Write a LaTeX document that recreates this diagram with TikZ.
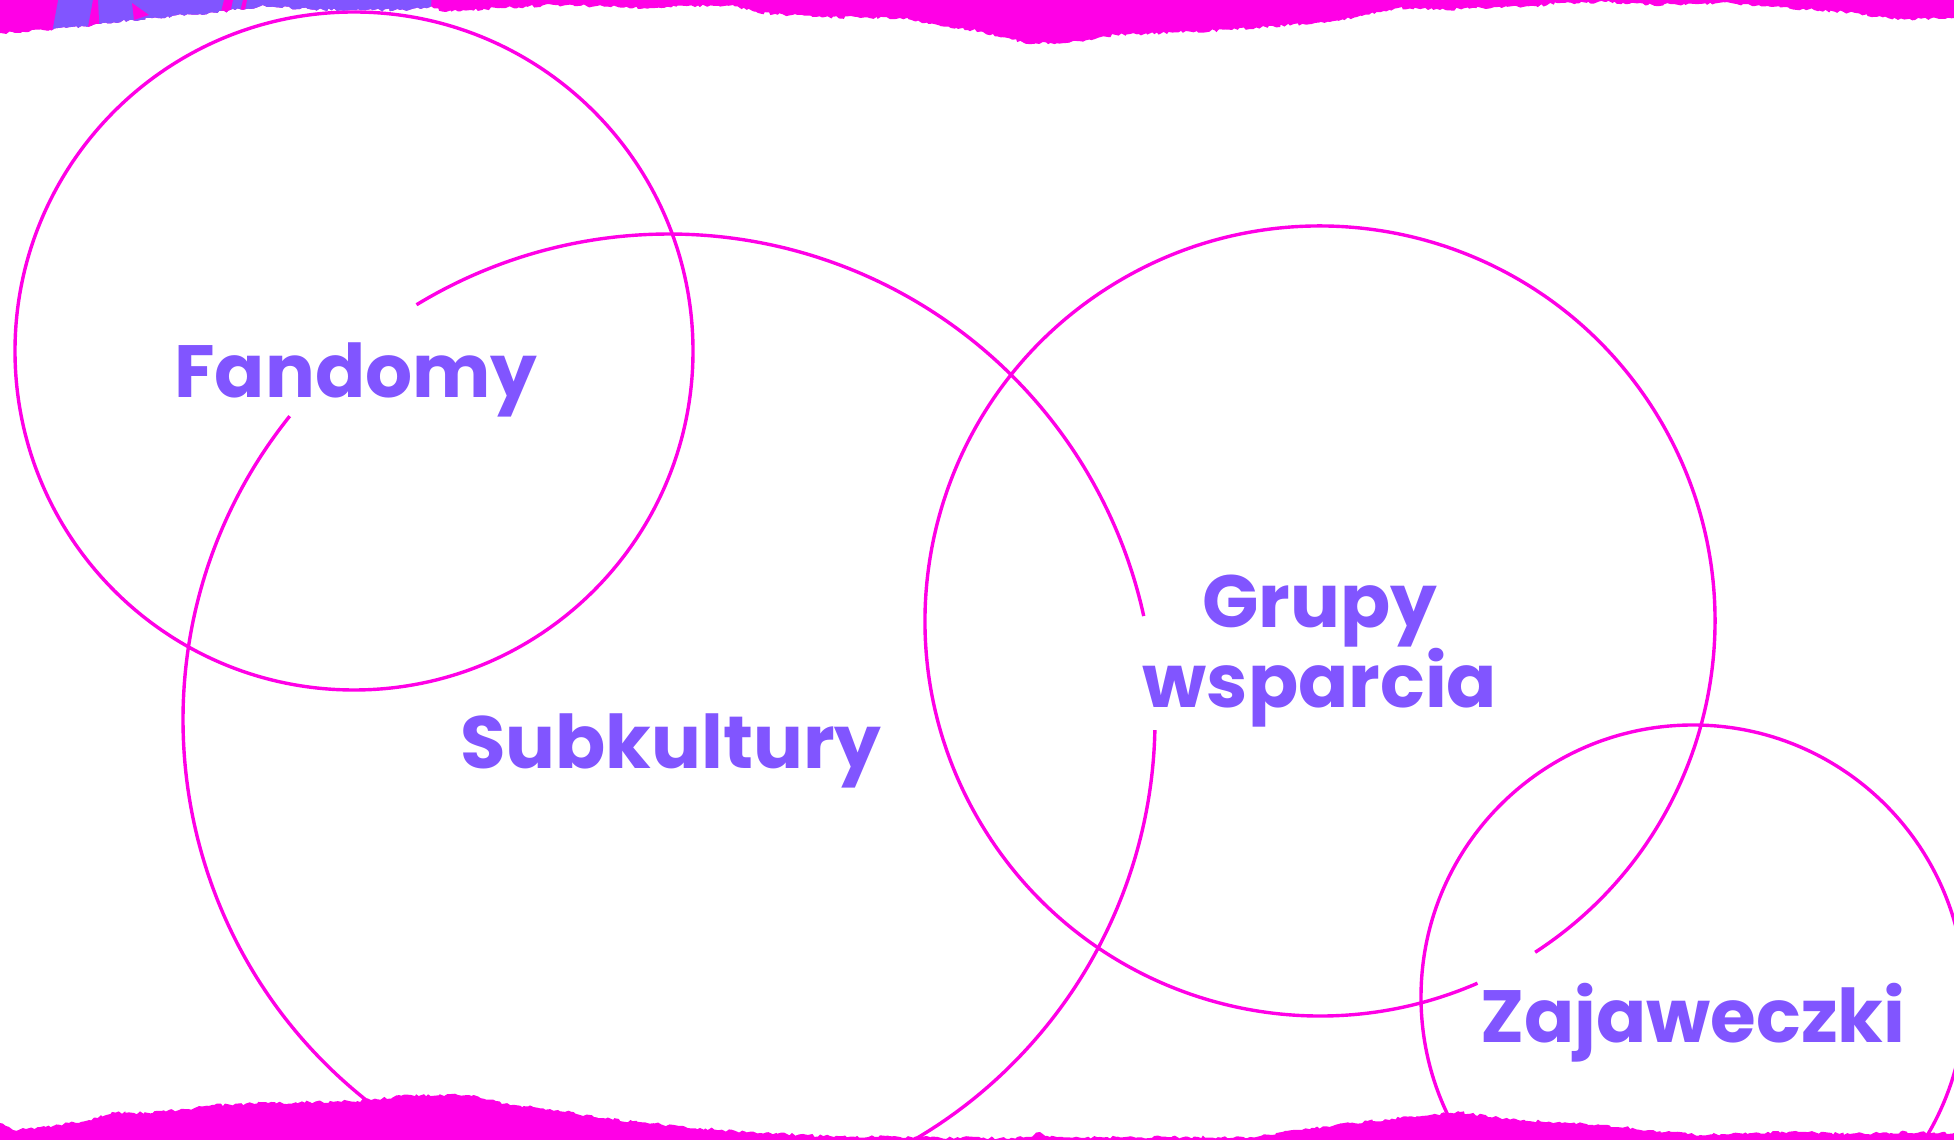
\documentclass[tikz,border=0pt]{standalone}
\usepackage{fontspec}
\setmainfont{Poppins}
\usepackage{xcolor}
\usepackage{tikz}
\usetikzlibrary{positioning, decorations.pathmorphing}
\definecolor{venpink}{HTML}{FF00E6}
\definecolor{venviolet}{HTML}{8155FF}

\begin{document}
\begin{tikzpicture}[x=1pt, y=1pt,
    ring/.style={draw=venpink, line width=3.4pt},
    circname/.style={text=venviolet, font=\bfseries\fontsize{74}{80}\selectfont,
                     align=center, inner sep=0pt},
    torn/.style={decorate, decoration={random steps, segment length=3pt, amplitude=1.5pt}}]
  \clip (0,0) rectangle (1954,1140);
  % centres of the circles
  \coordinate (cfan) at (354,789);
  \coordinate (csub) at (669,420);
  \coordinate (cgru) at (1320,519);
  \coordinate (czaj) at (1693,143);

  \draw[ring] (cfan) circle[radius=339];
  \draw[ring] (csub) ++(12.35:486) arc[start angle=12.35, end angle=121.3, radius=486];
  \draw[ring] (csub) ++(141.3:486) arc[start angle=141.3, end angle=358.8, radius=486];
  \draw[ring] (cgru) ++(-57:395) arc[start angle=-57, end angle=293.5, radius=395];
  \draw[ring] (czaj) circle[radius=272];

  \node[circname, anchor=base] (fandomy) at (356,742) {Fandomy};
  \node[circname, anchor=base] (subkultury) at (671,371) {Subkultury};
  \node[circname, anchor=base] (grupy) at (1320,432) {Grupy\\wsparcia};
  \node[circname, anchor=base] (zajaweczki) at (1693,97) {Zajaweczki};

  % torn paper strip, top
  \begin{scope}
    \pgfmathsetseed{7}
    \clip[torn] (-20,1170) -- (1974,1170) -- (1974,1122) -- (1954,1122) -- (1898,1120)
      -- (1856,1127) -- (1814,1130) -- (1773,1133) -- (1731,1137) -- (1648,1135)
      -- (1606,1138) -- (1565,1137) -- (1523,1133) -- (1482,1132) -- (1440,1130)
      -- (1398,1132) -- (1357,1123) -- (1315,1117) -- (1232,1110) -- (1116,1105)
      -- (1066,1097) -- (1024,1097) -- (983,1108) -- (900,1122) -- (816,1123)
      -- (758,1127) -- (733,1135) -- (650,1132) -- (558,1135) -- (500,1132)
      -- (446,1128) -- (430,1133) -- (400,1130) -- (350,1130) -- (300,1131)
      -- (265,1134) -- (235,1130) -- (200,1126) -- (150,1122) -- (100,1116) -- (50,1110)
      -- (0,1107) -- (-20,1107) -- cycle;
    \fill[venpink] (-20,1080) rectangle (1974,1170);
    \fill[venviolet] (60,1150) -- (47,1080) -- (428,1080) -- (432,1150) -- cycle;
    \fill[venpink] (82,1080) -- (93,1140) -- (98,1140) -- (101,1080) -- cycle;
    \fill[venpink] (132,1137) -- (149,1125) -- (134,1120) -- cycle;
    \fill[venpink] (214,1100) -- (224,1140) -- (233,1140) -- (224,1100) -- cycle;
    \fill[venpink] (238,1120) -- (243,1140) -- (247,1140) -- (243,1120) -- cycle;
  \end{scope}

  % torn paper strip, bottom
  \pgfmathsetseed{11}
  \fill[venpink, torn] (-20,-30) -- (-20,17) -- (0,17) -- (13,10) -- (45,13) -- (89,20)
    -- (112,28) -- (134,27) -- (179,30) -- (214,35) -- (268,37) -- (357,39)
    -- (411,45) -- (469,45) -- (513,35) -- (558,30) -- (603,22) -- (647,17)
    -- (700,12) -- (760,7) -- (830,4) -- (900,3) -- (1000,2) -- (1030,3)
    -- (1040,8) -- (1050,3) -- (1250,3) -- (1300,10) -- (1350,17) -- (1400,22)
    -- (1430,25) -- (1460,28) -- (1500,22) -- (1550,18) -- (1600,15) -- (1650,10)
    -- (1700,5) -- (1750,7) -- (1800,8) -- (1850,6) -- (1900,8) -- (1954,7)
    -- (1974,7) -- (1974,-30) -- cycle;
\end{tikzpicture}
\end{document}
